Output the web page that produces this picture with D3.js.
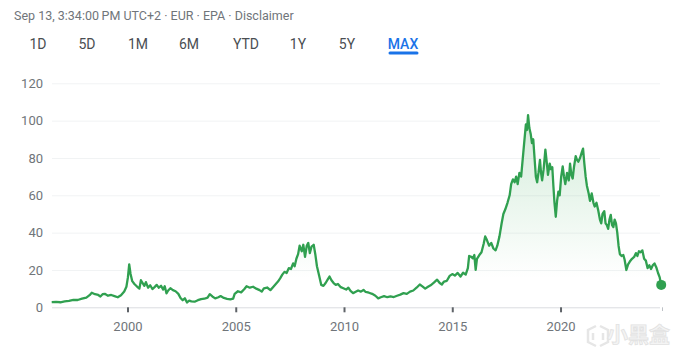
<!DOCTYPE html>
<html>
<head>
<meta charset="utf-8">
<script src="https://cdn.jsdelivr.net/npm/d3@7/dist/d3.min.js"></script>
<style>
  html, body { margin: 0; padding: 0; background: #fff; }
  svg { display: block; font-family: Roboto, Arial, sans-serif; }
</style>
</head>
<body>
<svg id="chart" width="688" height="354"></svg>
<script>
// price history, decimal year -> EUR
const years = [
  1996.50, 1996.70, 1996.90, 1997.10, 1997.30, 1997.50, 1997.70, 1997.90, 1998.10, 1998.25,
  1998.35, 1998.50, 1998.65, 1998.75, 1998.85, 1998.95, 1999.10, 1999.25, 1999.40, 1999.55,
  1999.70, 1999.85, 1999.95, 2000.02, 2000.08, 2000.14, 2000.22, 2000.32, 2000.45, 2000.55,
  2000.62, 2000.70, 2000.78, 2000.85, 2000.95, 2001.05, 2001.15, 2001.25, 2001.35, 2001.45,
  2001.55, 2001.65, 2001.72, 2001.80, 2001.88, 2001.98, 2002.10, 2002.22, 2002.35, 2002.45,
  2002.55, 2002.65, 2002.75, 2002.85, 2002.95, 2003.10, 2003.25, 2003.40, 2003.55, 2003.70,
  2003.80, 2003.92, 2004.05, 2004.20, 2004.30, 2004.45, 2004.60, 2004.75, 2004.88, 2004.95,
  2005.10, 2005.25, 2005.40, 2005.50, 2005.65, 2005.80, 2005.95, 2006.10, 2006.20, 2006.30,
  2006.45, 2006.60, 2006.72, 2006.85, 2006.95, 2007.05, 2007.15, 2007.25, 2007.35, 2007.45,
  2007.55, 2007.65, 2007.72, 2007.80, 2007.88, 2007.95, 2008.05, 2008.12, 2008.20, 2008.28,
  2008.35, 2008.42, 2008.50, 2008.60, 2008.68, 2008.75, 2008.85, 2008.95, 2009.05, 2009.15,
  2009.25, 2009.33, 2009.42, 2009.52, 2009.62, 2009.72, 2009.85, 2009.97, 2010.10, 2010.20,
  2010.30, 2010.42, 2010.52, 2010.65, 2010.78, 2010.90, 2011.00, 2011.15, 2011.30, 2011.45,
  2011.58, 2011.70, 2011.85, 2012.00, 2012.15, 2012.30, 2012.45, 2012.60, 2012.75, 2012.90,
  2013.05, 2013.20, 2013.35, 2013.50, 2013.62, 2013.75, 2013.88, 2014.00, 2014.15, 2014.30,
  2014.42, 2014.52, 2014.62, 2014.75, 2014.88, 2015.00, 2015.12, 2015.25, 2015.38, 2015.50,
  2015.62, 2015.72, 2015.78, 2015.88, 2015.95, 2016.02, 2016.08, 2016.14, 2016.25, 2016.35,
  2016.45, 2016.52, 2016.60, 2016.70, 2016.80, 2016.90, 2017.00, 2017.08, 2017.18, 2017.28,
  2017.36, 2017.45, 2017.55, 2017.65, 2017.72, 2017.80, 2017.88, 2017.95, 2018.02, 2018.10,
  2018.18, 2018.25, 2018.32, 2018.40, 2018.45, 2018.50, 2018.56, 2018.62, 2018.68, 2018.74,
  2018.80, 2018.86, 2018.92, 2018.98, 2019.05, 2019.10, 2019.15, 2019.22, 2019.30, 2019.36,
  2019.42, 2019.50, 2019.56, 2019.62, 2019.67, 2019.72, 2019.78, 2019.84, 2019.90, 2019.96,
  2020.03, 2020.10, 2020.16, 2020.22, 2020.30, 2020.38, 2020.44, 2020.50, 2020.56, 2020.62,
  2020.70, 2020.76, 2020.82, 2020.90, 2020.98, 2021.04, 2021.10, 2021.16, 2021.22, 2021.30,
  2021.36, 2021.44, 2021.52, 2021.58, 2021.66, 2021.74, 2021.82, 2021.88, 2021.94, 2022.02,
  2022.08, 2022.14, 2022.20, 2022.26, 2022.32, 2022.38, 2022.44, 2022.50, 2022.56, 2022.62,
  2022.68, 2022.74, 2022.82, 2022.90, 2022.96, 2023.04, 2023.12, 2023.20, 2023.30, 2023.40,
  2023.48, 2023.55, 2023.62, 2023.70, 2023.78, 2023.86, 2023.94, 2024.02, 2024.10, 2024.18,
  2024.26, 2024.34, 2024.42, 2024.50, 2024.58, 2024.65
];
const prices = [
  2.8, 2.9, 2.7, 3.2, 3.5, 4.0, 3.9, 4.6, 5.2, 6.5,
  7.8, 7.0, 6.6, 5.8, 7.0, 7.2, 6.2, 6.6, 6.0, 5.4,
  6.5, 8.5, 11, 16, 23, 18, 14, 12.5, 11, 10,
  14.5, 13, 11.5, 13.5, 10.5, 11.8, 9.8, 10.8, 12, 10.5,
  11.5, 9.5, 11.3, 7.5, 9.0, 10.2, 9.2, 8.6, 7.2, 5.0,
  3.8, 4.8, 2.6, 3.6, 3.2, 3.0, 3.8, 4.4, 4.6, 5.2,
  7.0, 5.8, 4.8, 5.4, 6.0, 5.0, 4.5, 4.2, 4.6, 7.2,
  8.6, 8.0, 9.8, 11.3, 10.5, 11.0, 10.0, 9.2, 8.4, 10.2,
  10.6, 9.2, 10.8, 12.5, 13.8, 15.5, 17.5, 19.0, 18.4, 21,
  20.5, 23.5, 22, 26, 28.5, 33, 30, 33.5, 27, 33,
  34.5, 29, 32.5, 33.5, 28, 22, 17, 12, 11.5, 13,
  15, 16.5, 14.5, 13, 12, 12.5, 10.8, 10.2, 9.5, 10.5,
  8.8, 7.6, 8.2, 9.0, 8.4, 9.3, 8.2, 7.8, 7.2, 6.2,
  4.8, 5.4, 6.0, 5.4, 5.8, 5.5, 6.2, 6.8, 7.6, 7.2,
  8.4, 9.0, 10.5, 12.2, 11.2, 10.0, 11.0, 11.8, 13.2, 14.8,
  13.0, 12.2, 13.8, 14.2, 16.8, 17.8, 17.0, 18.4, 16.5, 18.5,
  17.5, 21, 27.5, 27, 26.2, 28, 20, 26, 28, 29.5,
  34, 38, 36, 33, 34.5, 31.5, 30.5, 33, 38, 45,
  50, 52.5, 56, 60, 66, 68.5, 67, 70, 66, 72,
  70, 79, 88, 98, 95, 103, 96, 93, 88, 90,
  80, 70, 67, 72, 79, 72, 68, 74, 84.5, 78,
  71, 77, 74, 75, 65, 56, 48.5, 57, 62, 60,
  70, 75.5, 70, 66, 72, 68, 77, 71, 69, 75,
  81, 79, 78, 80, 83, 85, 77, 70, 65, 61,
  57, 61, 56, 54, 56, 52, 47, 45, 50, 51.5,
  45, 44, 42, 47, 49.5, 44, 43, 47, 45, 40,
  33, 28.5, 27.5, 28, 25.5, 20, 23, 24.5, 26, 27,
  29, 27.5, 30, 29.5, 30.5, 26, 25, 21, 22.5, 20.5,
  22.5, 23.5, 21.5, 18.5, 16, 12
];
const yTicks = [0, 20, 40, 60, 80, 100, 120];
const xTicks = [2000, 2005, 2010, 2015, 2020];
const ranges = ["1D", "5D", "1M", "6M", "YTD", "1Y", "5Y", "MAX"];
const header = "Sep 13, 3:34:00\u2009PM UTC+2 \u00b7 EUR \u00b7 EPA \u00b7 Disclaimer";

const data = years.map((t, i) => ({ t, v: prices[i] }));
const svg = d3.select("#chart");

// header line + range tabs
svg.append("text").attr("x", 14).attr("y", 20)
  .attr("font-size", 12.5).attr("fill", "#70757a").text(header);

const tabX = [38, 87, 138, 189, 246, 298, 347, 403];
svg.append("g").selectAll("text").data(ranges).join("text")
  .attr("x", (d, i) => tabX[i]).attr("y", 48.5)
  .attr("text-anchor", "middle").attr("font-size", 14)
  .attr("font-weight", d => d === "MAX" ? 500 : 400)
  .attr("fill", d => d === "MAX" ? "#1a73e8" : "#4a4e52")
  .text(d => d);
svg.append("rect").attr("x", 388.5).attr("y", 51.5).attr("width", 30).attr("height", 3)
  .attr("rx", 1.5).attr("fill", "#1a73e8");

// scales
const x = d3.scaleLinear().domain([1996.5, 2024.7]).range([51.7, 662.3]);
const y = d3.scaleLinear().domain([0, 120]).range([307.3, 83.3]);

// gridlines + y labels
const yAxis = svg.append("g").attr("transform", "translate(52,0)")
  .call(d3.axisRight(y).tickValues(yTicks).tickSize(608).tickFormat(d3.format("d")));
yAxis.select(".domain").remove();
yAxis.selectAll(".tick line").attr("stroke", d => d === 0 ? "#dadce0" : "#f1f3f4");
yAxis.selectAll(".tick text").attr("x", -9).attr("text-anchor", "end")
  .attr("font-size", 13).attr("font-family", "Roboto, Arial, sans-serif").attr("fill", "#70757a");

// x axis ticks + labels
const xAxis = svg.append("g").attr("transform", "translate(0,307.3)")
  .call(d3.axisBottom(x).tickValues(xTicks).tickSize(5).tickPadding(9).tickFormat(d3.format("d")));
xAxis.select(".domain").remove();
xAxis.selectAll(".tick line").attr("stroke", "#5f6368").attr("stroke-width", 2);
xAxis.selectAll(".tick text").attr("font-size", 13)
  .attr("font-family", "Roboto, Arial, sans-serif").attr("fill", "#70757a");
svg.append("line").attr("x1", 662.5).attr("x2", 662.5).attr("y1", 307.3).attr("y2", 311)
  .attr("stroke", "#bdc1c6").attr("stroke-width", 1);

// gradient area + line
const defs = svg.append("defs");
const grad = defs.append("linearGradient").attr("id", "fillGrad")
  .attr("x1", 0).attr("y1", 0).attr("x2", 0).attr("y2", 1);
grad.append("stop").attr("offset", "0%").attr("stop-color", "#34a853").attr("stop-opacity", 0.22);
grad.append("stop").attr("offset", "85%").attr("stop-color", "#34a853").attr("stop-opacity", 0);

svg.append("path").datum(data)
  .attr("fill", "url(#fillGrad)")
  .attr("d", d3.area().x(d => x(d.t)).y0(y(0)).y1(d => y(d.v)));

svg.append("path").datum(data)
  .attr("fill", "none").attr("stroke", "#30a050").attr("stroke-width", 2.3)
  .attr("stroke-linejoin", "round")
  .attr("d", d3.line().x(d => x(d.t)).y(d => y(d.v)));

const last = data[data.length - 1];
svg.append("circle").attr("cx", x(last.t)).attr("cy", y(last.v)).attr("r", 5)
  .attr("fill", "#30a050");

// watermark (logo + name)
const wm = svg.append("g").attr("fill", "none").attr("stroke", "#e6e6e6").attr("stroke-width", 2.5);
wm.append("path").attr("d", "M596,326 L588,330 L588,342 L596,346 M600,326 L608,330 L608,342 L600,346 M593,333 L593,340 M603,333 L603,340");
svg.append("text").attr("x", 670).attr("y", 342).attr("text-anchor", "end")
  .attr("font-size", 21).attr("font-weight", 700)
  .attr("font-family", "'Noto Sans CJK SC', sans-serif")
  .attr("fill", "#f4f4f4").attr("stroke", "#e2e2e2").attr("stroke-width", 0.8)
  .text("小黑盒");
</script>
</body>
</html>
